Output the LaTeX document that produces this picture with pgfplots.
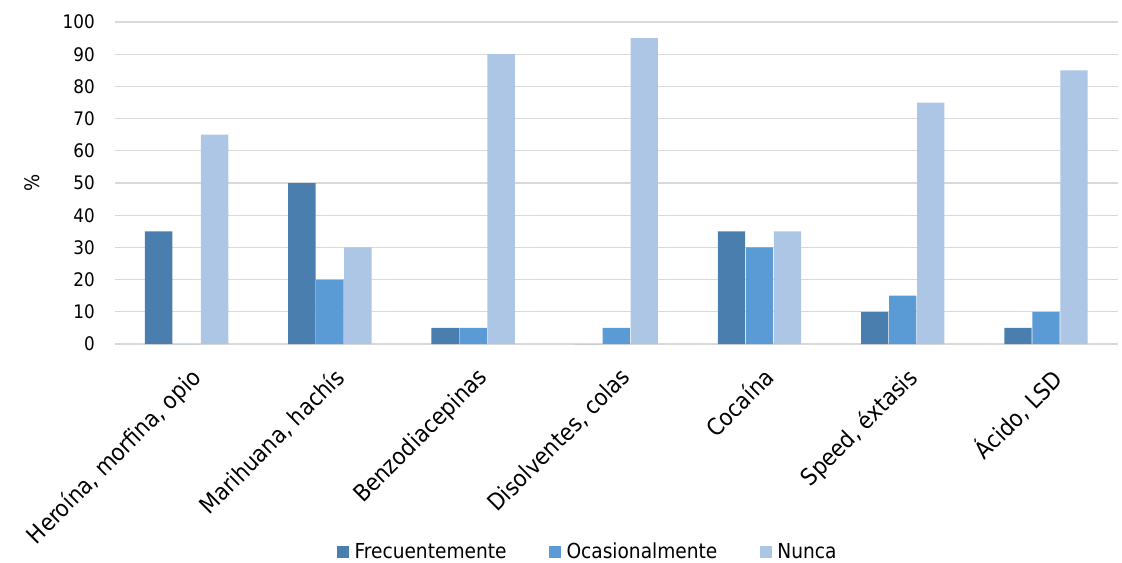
\documentclass[border=0pt]{standalone}
\usepackage{fontspec}
\setmainfont{DejaVu Sans Condensed}
\usepackage{pgfplots}
\pgfplotsset{compat=1.18}
\usepackage{pgfplotstable}

\definecolor{frec}{RGB}{74,126,175}
\definecolor{ocas}{RGB}{91,155,213}
\definecolor{nunc}{RGB}{173,198,229}
\definecolor{gridc}{RGB}{217,217,217}

% x: 0..6 = categories
\pgfplotstableread{
x frec ocas nunc
0 35 0  65
1 50 20 30
2 5  5  90
3 0  5  95
4 35 30 35
5 10 15 75
6 5  10 85
}\drugs

\begin{document}
\begin{tikzpicture}
\begin{axis}[
  name=ax,
  scale only axis,
  width=752pt, height=241.5pt,
  ybar=0.5pt, bar width=20.5pt,
  xmin=-0.5, xmax=6.5,
  ymin=0, ymax=100,
  ytick={0,10,...,100},
  xtick=data,
  xticklabels={{Heroína, morfina, opio},{Marihuana, hachís},Benzodiacepinas,{Disolventes, colas},Cocaína,{Speed, éxtasis},{Ácido, LSD}},
  x tick label style={rotate=45, anchor=north east, inner sep=2pt, yshift=-8pt, xshift=-5pt,
    font=\fontsize{17.5}{19}\selectfont},
  y tick label style={font=\fontsize{14}{16}\selectfont, anchor=east, inner sep=0pt, xshift=-15pt},
  /pgf/number format/assume math mode=true,
  ymajorgrids,
  grid style={gridc, line width=1pt},
  axis lines*=left,
  y axis line style={draw=none},
  x axis line style={gridc, line width=1pt},
  xtick style={draw=none},
  ytick style={draw=none},
  ylabel={\%},
  ylabel style={font=\fontsize{15}{17}\selectfont, at={(axis description cs:-0.0825,0.5)}, anchor=center},
  legend style={draw=none, fill=none, at={(0.472,-0.646)}, anchor=center, legend columns=3,
    font=\fontsize{15.5}{17}\selectfont, inner sep=0pt,
    /tikz/every odd column/.append style={column sep=2pt},
    /tikz/every even column/.append style={column sep=30pt}},
  legend image code/.code={\fill[#1] (0pt,-4.5pt) rectangle (9pt,4.5pt);},
]
\addplot[fill=frec, draw=none] table[x=x,y=frec]{\drugs};
\addplot[fill=ocas, draw=none] table[x=x,y=ocas]{\drugs};
\addplot[fill=nunc, draw=none] table[x=x,y=nunc]{\drugs};
\legend{Frecuentemente,Ocasionalmente,Nunca}
\end{axis}
\pgfresetboundingbox
\useasboundingbox (-86.25pt,-163.5pt) rectangle (755.25pt,258pt);
\end{tikzpicture}
\end{document}
